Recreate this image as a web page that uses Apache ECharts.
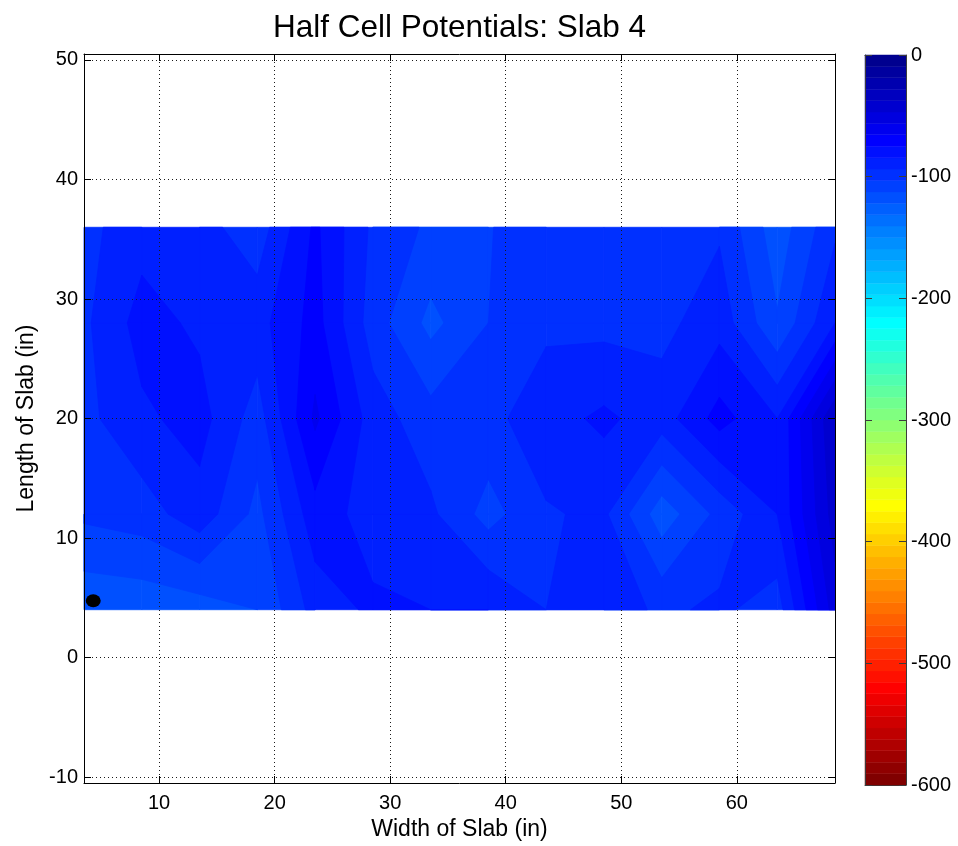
<!DOCTYPE html>
<html>
<head>
<meta charset="utf-8">
<title>Half Cell Potentials: Slab 4</title>
<script src="https://cdn.jsdelivr.net/npm/echarts@6/dist/echarts.min.js"></script>
<style>
  html, body { margin: 0; padding: 0; background: #ffffff; }
  #chart { width: 958px; height: 846px; }
</style>
</head>
<body>
<div id="chart"></div>
<script>
// Survey grid: measurement columns across the slab width and rows along its length (in)
const widthPositions = [3.5, 8.5, 13.5, 18.5, 23.5, 28.5, 33.5, 38.5, 43.5, 48.5, 53.5, 58.5, 63.5, 68.5];
const lengthPositions = [4, 12, 20, 28, 36];

// Half cell potential readings (mV), one array per survey row, listed left to right
const row4  = [-118, -117, -115, -110, -86, -78, -80, -80, -90, -84, -92, -88, -95, -45];
const row12 = [-98, -95, -84, -103, -74, -85, -88, -104, -91, -88, -116, -97, -80, -35];
const row20 = [-93, -82, -76, -95, -58, -85, -96, -93, -84, -78, -85, -66, -80, -30];
const row28 = [-92, -76, -82, -84, -66, -95, -113, -100, -92, -93, -93, -84, -109, -80];
const row36 = [-93, -84, -86, -96, -68, -92, -102, -100.5, -95, -94, -93, -91.5, -116, -92];
const potentialRows = [row4, row12, row20, row28, row36];

// Electrode location marker
const markerPoint = [[4.3, 4.75]];

// Contour levels and colour scale
const contourStep = 10;            // mV between filled contour levels
const colorLimits = [-600, 0];     // colour axis range (mV)
const colorbarTicks = [0, -100, -200, -300, -400, -500, -600];
const colormapSize = 64;

const FONT = "'Liberation Sans', Arial, Helvetica, sans-serif";

// Classic "jet" colormap (dark blue -> cyan -> yellow -> dark red)
function jetColormap(n) {
  const m = Math.ceil(n / 4);
  const u = [];
  for (let i = 1; i <= m; i++) u.push(i / m);
  for (let i = 1; i < m; i++) u.push(1);
  for (let i = m; i >= 1; i--) u.push(i / m);
  const gOff = Math.ceil(m / 2) - (n % 4 === 1 ? 1 : 0);
  const r = new Array(n).fill(0), g = new Array(n).fill(0), b = new Array(n).fill(0);
  u.forEach((val, k) => {
    const gi = gOff + k + 1, ri = gi + m, bi = gi - m;
    if (gi >= 1 && gi <= n) g[gi - 1] = val;
    if (ri >= 1 && ri <= n) r[ri - 1] = val;
    if (bi >= 1 && bi <= n) b[bi - 1] = val;
  });
  const out = [];
  for (let i = 0; i < n; i++) {
    out.push('rgb(' + Math.round(r[i] * 255) + ',' + Math.round(g[i] * 255) + ',' + Math.round(b[i] * 255) + ')');
  }
  return out;
}
const jet = jetColormap(colormapSize);

// Reversed scale: 0 mV is dark blue, -600 mV is dark red
function colorForValue(v) {
  const [cmin, cmax] = colorLimits;
  let idx = Math.floor((v - cmin) / (cmax - cmin) * colormapSize);
  idx = Math.max(0, Math.min(colormapSize - 1, idx));
  return jet[colormapSize - 1 - idx];
}

// Keep the part of a polygon (vertices [x, y, value]) where value >= level
function clipAbove(poly, level) {
  const out = [];
  for (let i = 0; i < poly.length; i++) {
    const a = poly[i], b = poly[(i + 1) % poly.length];
    const ina = a[2] >= level, inb = b[2] >= level;
    if (ina) out.push(a);
    if (ina !== inb) {
      const t = (level - a[2]) / (b[2] - a[2]);
      out.push([a[0] + t * (b[0] - a[0]), a[1] + t * (b[1] - a[1]), level]);
    }
  }
  return out;
}

// Filled contour pieces: each grid cell is painted with stacked "value >= level" regions
const contourPieces = [];
for (let j = 0; j < lengthPositions.length - 1; j++) {
  for (let i = 0; i < widthPositions.length - 1; i++) {
    const cell = [
      [widthPositions[i], lengthPositions[j], potentialRows[j][i]],
      [widthPositions[i + 1], lengthPositions[j], potentialRows[j][i + 1]],
      [widthPositions[i + 1], lengthPositions[j + 1], potentialRows[j + 1][i + 1]],
      [widthPositions[i], lengthPositions[j + 1], potentialRows[j + 1][i]]
    ];
    const vals = cell.map(p => p[2]);
    const lo = Math.floor(Math.min(...vals) / contourStep) * contourStep;
    const hi = Math.max(...vals);
    for (let level = lo; level <= hi; level += contourStep) {
      const piece = clipAbove(cell, level);
      if (piece.length < 3) continue;
      contourPieces.push({ pts: piece.map(p => [p[0], p[1]]), level: level, color: colorForValue(level) });
    }
  }
}
contourPieces.sort((a, b) => a.level - b.level);

// Colour bar stripes, one per colormap entry
const colorbarStripes = [];
for (let k = 0; k < colormapSize; k++) {
  const span = colorLimits[1] - colorLimits[0];
  const bottom = colorLimits[0] + span * k / colormapSize;
  const top = colorLimits[0] + span * (k + 1) / colormapSize;
  colorbarStripes.push([k, bottom, top]);
}

const axisBlack = '#000000';
const gridDots = { color: '#1a1a1a', width: 1, type: [1, 3] };
const tickLabelStyle = { color: '#000', fontSize: 20, fontFamily: FONT };

function tenLabel(v) { return Math.abs(v % 10) < 1e-9 ? String(Math.round(v)) : ''; }

const chart = echarts.init(document.getElementById('chart'), null, { renderer: 'canvas' });

chart.setOption({
  animation: false,
  backgroundColor: '#ffffff',
  title: {
    text: 'Half Cell Potentials: Slab 4',
    left: 454.5,
    top: 7,
    textAlign: 'center',
    textStyle: { color: '#000', fontSize: 31.5, fontWeight: 'normal', fontFamily: FONT }
  },
  grid: [
    { left: 84, top: 54, width: 751, height: 729, containLabel: false, outerBoundsMode: 'none' },
    { left: 865, top: 55, width: 41, height: 730, containLabel: false, outerBoundsMode: 'none' }
  ],
  xAxis: [
    {
      type: 'value', gridIndex: 0, position: 'bottom', min: 3.5, max: 68.5, z: 5,
      name: 'Width of Slab (in)', nameLocation: 'middle', nameGap: 35,
      nameTextStyle: { color: '#000', fontSize: 23, fontFamily: FONT },
      axisLine: { show: true, onZero: false, lineStyle: { color: axisBlack, width: 1 } },
      axisTick: { show: true, inside: true, length: 7, lineStyle: { color: axisBlack } },
      axisLabel: { show: true, margin: 10, formatter: tenLabel, showMinLabel: false, showMaxLabel: false, ...tickLabelStyle },
      splitLine: { show: true, lineStyle: gridDots }
    },
    {
      type: 'value', gridIndex: 0, position: 'top', min: 3.5, max: 68.5, z: 5,
      axisLine: { show: true, onZero: false, lineStyle: { color: axisBlack, width: 1 } },
      axisTick: { show: true, inside: true, length: 7, lineStyle: { color: axisBlack } },
      axisLabel: { show: false },
      splitLine: { show: false }
    },
    {
      type: 'value', gridIndex: 1, position: 'bottom', min: 0, max: 1,
      axisLine: { show: true, onZero: false, lineStyle: { color: '#3c3c3c' } },
      axisTick: { show: false }, axisLabel: { show: false }, splitLine: { show: false }
    },
    {
      type: 'value', gridIndex: 1, position: 'top', min: 0, max: 1,
      axisLine: { show: true, onZero: false, lineStyle: { color: '#3c3c3c' } },
      axisTick: { show: false }, axisLabel: { show: false }, splitLine: { show: false }
    }
  ],
  yAxis: [
    {
      type: 'value', gridIndex: 0, position: 'left', min: -10.5, max: 50.5, z: 5,
      name: 'Length of Slab (in)', nameLocation: 'middle', nameGap: 44, nameRotate: 90,
      nameTextStyle: { color: '#000', fontSize: 23, fontFamily: FONT },
      axisLine: { show: true, onZero: false, lineStyle: { color: axisBlack, width: 1 } },
      axisTick: { show: true, inside: true, length: 7, lineStyle: { color: axisBlack } },
      axisLabel: { show: true, margin: 6, formatter: tenLabel, showMinLabel: false, showMaxLabel: false, ...tickLabelStyle },
      splitLine: { show: true, lineStyle: gridDots }
    },
    {
      type: 'value', gridIndex: 0, position: 'right', min: -10.5, max: 50.5, z: 5,
      axisLine: { show: true, onZero: false, lineStyle: { color: axisBlack, width: 1 } },
      axisTick: { show: true, inside: true, length: 7, lineStyle: { color: axisBlack } },
      axisLabel: { show: false },
      splitLine: { show: false }
    },
    {
      type: 'value', gridIndex: 1, position: 'right', min: colorLimits[0], max: colorLimits[1], interval: 100, z: 5,
      axisLine: { show: true, onZero: false, lineStyle: { color: '#3c3c3c' } },
      axisTick: { show: true, inside: true, length: 7, lineStyle: { color: '#3c3c3c' } },
      axisLabel: { show: true, margin: 5, ...tickLabelStyle },
      splitLine: { show: false }
    },
    {
      type: 'value', gridIndex: 1, position: 'left', min: colorLimits[0], max: colorLimits[1], interval: 100, z: 5,
      axisLine: { show: true, onZero: false, lineStyle: { color: '#3c3c3c' } },
      axisTick: { show: true, inside: true, length: 7, lineStyle: { color: '#3c3c3c' } },
      axisLabel: { show: false },
      splitLine: { show: false }
    }
  ],
  series: [
    {
      type: 'custom',
      name: 'Potential contours',
      coordinateSystem: 'cartesian2d',
      xAxisIndex: 0, yAxisIndex: 0,
      silent: true,
      z: 2,
      data: contourPieces.map(p => [p.pts[0][0], p.pts[0][1], p.level]),
      encode: { x: 0, y: 1 },
      renderItem: function (params, api) {
        const piece = contourPieces[params.dataIndex];
        return {
          type: 'polygon',
          z2: params.dataIndex,
          shape: { points: piece.pts.map(p => api.coord(p)) },
          style: { fill: piece.color, stroke: piece.color, lineWidth: 0.8 }
        };
      }
    },
    {
      type: 'scatter',
      name: 'Marker',
      xAxisIndex: 0, yAxisIndex: 0,
      data: markerPoint,
      symbol: 'circle',
      symbolSize: [15, 13],
      itemStyle: { color: '#000', opacity: 1 },
      z: 6,
      silent: true
    },
    {
      type: 'custom',
      name: 'Colour bar',
      coordinateSystem: 'cartesian2d',
      xAxisIndex: 2, yAxisIndex: 2,
      silent: true,
      data: colorbarStripes,
      encode: { y: [1, 2] },
      renderItem: function (params, api) {
        const k = api.value(0);
        const p0 = api.coord([0, api.value(2)]);
        const p1 = api.coord([1, api.value(1)]);
        const col = colorForValue(colorLimits[0] + (k + 0.5) * (colorLimits[1] - colorLimits[0]) / colormapSize);
        return {
          type: 'rect',
          shape: { x: p0[0], y: p0[1], width: p1[0] - p0[0], height: p1[1] - p0[1] },
          style: { fill: col, stroke: col, lineWidth: 0.5 }
        };
      }
    }
  ]
});
</script>
</body>
</html>
